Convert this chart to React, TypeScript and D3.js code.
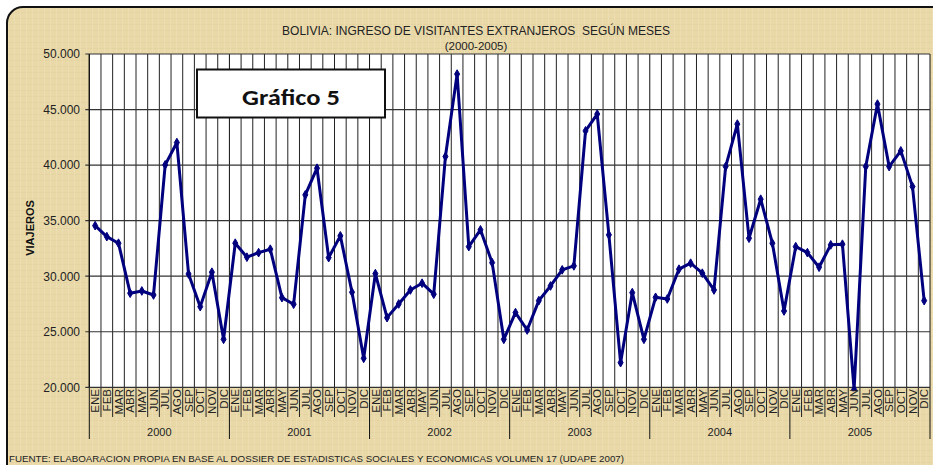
import React from "react";
import * as d3 from "d3";

const years = ["2000", "2001", "2002", "2003", "2004", "2005"];
const months = ["ENE", "FEB", "MAR", "ABR", "MAY", "JUN", "JUL", "AGO", "SEP", "OCT", "NOV", "DIC"];
const v2000 = [34550, 33560, 32970, 28470, 28670, 28310, 40020, 42030, 30200, 27260, 30360, 24320];
const v2001 = [32970, 31710, 32120, 32430, 28070, 27480, 37320, 39720, 31670, 33630, 28560, 22610];
const v2002 = [30230, 26270, 27500, 28760, 29370, 28380, 40770, 48190, 32660, 34170, 31220, 24320];
const v2003 = [26720, 25160, 27800, 29120, 30570, 30930, 43080, 44590, 33720, 22220, 28520, 24320];
const v2004 = [28100, 27950, 30630, 31170, 30270, 28760, 39870, 43690, 33420, 36930, 32970, 26870];
const v2005 = [32660, 32120, 30810, 32820, 32880, 19800, 39870, 45490, 39870, 41280, 38070, 27800];
const yTicks = [20000, 25000, 30000, 35000, 40000, 45000, 50000];

const title = "BOLIVIA: INGRESO DE VISITANTES EXTRANJEROS  SEGÚN MESES";
const subtitle = "(2000-2005)";
const yTitle = "VIAJEROS";
const boxLabel = "Gráfico 5";
const source = "FUENTE: ELABOARACION PROPIA EN BASE AL DOSSIER DE ESTADISTICAS SOCIALES Y ECONOMICAS VOLUMEN 17 (UDAPE 2007)";

export default function App() {
  const W = 933, H = 465;
  const left = 89.3, right = 930, top = 54, bottom = 387.3;
  const values = [...v2000, ...v2001, ...v2002, ...v2003, ...v2004, ...v2005];
  const n = values.length;
  const x = d3.scaleBand<number>().domain(d3.range(n)).range([left, right]);
  const y = d3.scaleLinear().domain([20000, 50000]).range([bottom, top]);
  const fmtTick = (v: number) => d3.format(",.3f")(v / 1000).replace(",", ".");
  const line = d3.line<number>().x((_, i) => x(i)! + x.bandwidth() / 2).y(d => y(d));
  const bw = x.bandwidth();
  const diamond = d3.symbol().type(d3.symbolDiamond).size(22)();
  const font = "Arial, 'Liberation Sans', sans-serif";

  return (
    <svg width={W} height={H} style={{ position: "absolute", left: 0, top: 0 }} fontFamily={font}>
      <defs>
        <pattern id="tex" width="6" height="6" patternUnits="userSpaceOnUse">
          <rect width="6" height="6" fill="#E9D9A9" />
          <line x1="0" y1="0.5" x2="6" y2="0.5" stroke="#DCC890" strokeWidth="0.6" opacity="0.6" />
          <line x1="2.5" y1="0" x2="2.5" y2="6" stroke="#F2E6C0" strokeWidth="0.6" opacity="0.7" />
        </pattern>
        <clipPath id="plotclip">
          <rect x={left} y={top - 2} width={right - left} height={bottom - top + 6} />
        </clipPath>
      </defs>
      <rect x={0} y={0} width={W} height={H} fill="#fff" />
      <rect x={7} y={7} width={940} height={480} rx={16} ry={16} fill="url(#tex)" stroke="#111" strokeWidth={2} />
      <rect x={left} y={top} width={right - left} height={bottom - top} fill="#fff" />
      {d3.range(n + 1).map(i => {
        const xx = left + i * bw;
        const isYear = i % 12 === 0;
        return (
          <line key={"v" + i} x1={xx} x2={xx} y1={top} y2={isYear ? 439 : 417}
            stroke={isYear ? "#111" : "#222"} strokeWidth={1} />
        );
      })}
      {yTicks.map(t => (
        <g key={"h" + t}>
          <line x1={left - 4} x2={right} y1={y(t)} y2={y(t)} stroke="#333" strokeWidth={1.2} />
          <text x={80} y={y(t)} dy="0.36em" textAnchor="end" fontSize={12} fill="#222">{fmtTick(t)}</text>
        </g>
      ))}
      <line x1={left} x2={left} y1={top} y2={bottom} stroke="#111" strokeWidth={1.2} />
      <g clipPath="url(#plotclip)">
        <path d={line(values) || ""} fill="none" stroke="#00007F" strokeWidth={3} strokeLinejoin="round" />
        {values.map((v, i) => (
          <path key={"m" + i} d={diamond || ""} transform={`translate(${x(i)! + bw / 2},${y(v)})`} fill="#00007F" stroke="#00007F" strokeWidth={1} />
        ))}
      </g>
      {values.map((_, i) => (
        <text key={"ml" + i} transform={`translate(${x(i)! + bw / 2 + 4.2},${389}) rotate(-90)`} textAnchor="end" fontSize={11.5} fill="#222">
          {months[i % 12]}
        </text>
      ))}
      {years.map((yr, j) => (
        <text key={"yr" + j} x={left + (j * 12 + 6) * bw} y={436} textAnchor="middle" fontSize={11} fill="#222">{yr}</text>
      ))}
      <text x={476} y={35} textAnchor="middle" fontSize={12} fill="#222" style={{ whiteSpace: "pre" }}>{title}</text>
      <text x={476} y={50} textAnchor="middle" fontSize={11.5} fill="#222">{subtitle}</text>
      <text transform={`translate(34,228) rotate(-90)`} textAnchor="middle" fontSize={11} fontWeight="bold" fill="#111">{yTitle}</text>
      <rect x={197} y={69.5} width={188} height={48} fill="#fff" stroke="#111" strokeWidth={2} />
      <text x={291} y={105} textAnchor="middle" fontSize={23} fontWeight="bold" fill="#111" textLength={98} lengthAdjust="spacingAndGlyphs" fontFamily="Carlito, Calibri, 'Open Sans', 'DejaVu Sans', sans-serif">{boxLabel}</text>
      <text x={9} y={462} fontSize={9} fill="#222" textLength={615} lengthAdjust="spacingAndGlyphs">{source}</text>
    </svg>
  );
}
